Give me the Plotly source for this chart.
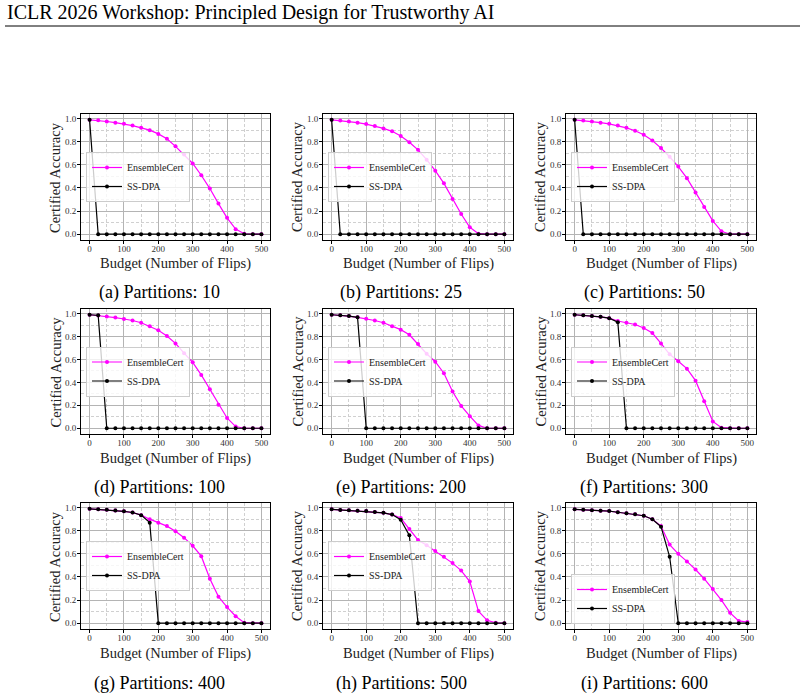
import plotly.graph_objects as go

# ---------------- data ----------------
budget = [0, 25, 50, 75, 100, 125, 150, 175, 200, 225, 250, 275, 300, 325, 350, 375, 400, 425, 450, 475, 500]
partitions = [10, 25, 50, 100, 200, 300, 400, 500, 600]
letters = ["a", "b", "c", "d", "e", "f", "g", "h", "i"]

ens_p10 = [0.99, 0.985, 0.975, 0.965, 0.955, 0.94, 0.92, 0.90, 0.868, 0.825, 0.76, 0.69, 0.612, 0.51, 0.395, 0.265, 0.142, 0.044, 0.004, 0.0, 0.0]
ss_p10 = [0.99, 0.0, 0.0, 0.0, 0.0, 0.0, 0.0, 0.0, 0.0, 0.0, 0.0, 0.0, 0.0, 0.0, 0.0, 0.0, 0.0, 0.0, 0.0, 0.0, 0.0]

ens_p25 = [0.99, 0.983, 0.975, 0.965, 0.953, 0.937, 0.915, 0.89, 0.85, 0.795, 0.73, 0.645, 0.55, 0.44, 0.305, 0.175, 0.06, 0.005, 0.0, 0.0, 0.0]
ss_p25 = [0.99, 0.0, 0.0, 0.0, 0.0, 0.0, 0.0, 0.0, 0.0, 0.0, 0.0, 0.0, 0.0, 0.0, 0.0, 0.0, 0.0, 0.0, 0.0, 0.0, 0.0]

ens_p50 = [0.99, 0.983, 0.975, 0.965, 0.955, 0.94, 0.92, 0.895, 0.86, 0.81, 0.745, 0.67, 0.585, 0.485, 0.36, 0.235, 0.115, 0.025, 0.0, 0.0, 0.0]
ss_p50 = [0.99, 0.0, 0.0, 0.0, 0.0, 0.0, 0.0, 0.0, 0.0, 0.0, 0.0, 0.0, 0.0, 0.0, 0.0, 0.0, 0.0, 0.0, 0.0, 0.0, 0.0]

ens_p100 = [0.99, 0.983, 0.975, 0.965, 0.953, 0.94, 0.92, 0.89, 0.855, 0.805, 0.74, 0.655, 0.575, 0.465, 0.34, 0.205, 0.09, 0.015, 0.0, 0.0, 0.0]
ss_p100 = [0.99, 0.985, 0.0, 0.0, 0.0, 0.0, 0.0, 0.0, 0.0, 0.0, 0.0, 0.0, 0.0, 0.0, 0.0, 0.0, 0.0, 0.0, 0.0, 0.0, 0.0]

ens_p200 = [0.99, 0.985, 0.978, 0.967, 0.955, 0.94, 0.92, 0.89, 0.86, 0.815, 0.735, 0.65, 0.58, 0.48, 0.32, 0.195, 0.105, 0.025, 0.0, 0.0, 0.0]
ss_p200 = [0.99, 0.985, 0.978, 0.967, 0.0, 0.0, 0.0, 0.0, 0.0, 0.0, 0.0, 0.0, 0.0, 0.0, 0.0, 0.0, 0.0, 0.0, 0.0, 0.0, 0.0]

ens_p300 = [0.99, 0.985, 0.98, 0.972, 0.96, 0.935, 0.92, 0.905, 0.875, 0.83, 0.74, 0.645, 0.585, 0.52, 0.415, 0.235, 0.06, 0.005, 0.0, 0.0, 0.0]
ss_p300 = [0.99, 0.985, 0.98, 0.972, 0.96, 0.925, 0.0, 0.0, 0.0, 0.0, 0.0, 0.0, 0.0, 0.0, 0.0, 0.0, 0.0, 0.0, 0.0, 0.0, 0.0]

ens_p400 = [0.99, 0.985, 0.982, 0.975, 0.968, 0.958, 0.935, 0.90, 0.87, 0.84, 0.795, 0.74, 0.67, 0.58, 0.385, 0.23, 0.14, 0.06, 0.005, 0.0, 0.0]
ss_p400 = [0.99, 0.985, 0.982, 0.975, 0.968, 0.958, 0.935, 0.87, 0.0, 0.0, 0.0, 0.0, 0.0, 0.0, 0.0, 0.0, 0.0, 0.0, 0.0, 0.0, 0.0]

ens_p500 = [0.985, 0.98, 0.977, 0.973, 0.97, 0.962, 0.955, 0.94, 0.91, 0.815, 0.72, 0.675, 0.625, 0.575, 0.52, 0.455, 0.36, 0.105, 0.025, 0.003, 0.0]
ss_p500 = [0.985, 0.98, 0.977, 0.973, 0.97, 0.962, 0.955, 0.94, 0.895, 0.76, 0.0, 0.0, 0.0, 0.0, 0.0, 0.0, 0.0, 0.0, 0.0, 0.0, 0.0]

ens_p600 = [0.985, 0.982, 0.978, 0.973, 0.97, 0.96, 0.952, 0.943, 0.93, 0.90, 0.84, 0.68, 0.60, 0.535, 0.465, 0.385, 0.295, 0.20, 0.09, 0.02, 0.01]
ss_p600 = [0.985, 0.982, 0.978, 0.973, 0.97, 0.96, 0.952, 0.943, 0.93, 0.90, 0.835, 0.575, 0.0, 0.0, 0.0, 0.0, 0.0, 0.0, 0.0, 0.0, 0.0]

ensemble_series = [ens_p10, ens_p25, ens_p50, ens_p100, ens_p200, ens_p300, ens_p400, ens_p500, ens_p600]
ssdpa_series = [ss_p10, ss_p25, ss_p50, ss_p100, ss_p200, ss_p300, ss_p400, ss_p500, ss_p600]

header_text = "ICLR 2026 Workshop: Principled Design for Trustworthy AI"
x_title = "Budget (Number of Flips)"
y_title = "Certified Accuracy"

# ---------------- layout constants ----------------
W, H = 804, 698
col_left = [81, 323, 566]
col_right = [270, 513, 756]
row_top = [114, 309, 503]
row_bot = [240, 434, 629]
ytitle_x = [55, 297, 540]
xtitle_y = [263, 458, 653]
caption_y = [292, 487, 683]
caption_x = [159, 401, 644]

SERIF = "Liberation Serif, Times New Roman, serif"
MAGENTA = "#ff00ff"


def px(x):
    return x / W


def py(y):
    return 1 - y / H


fig = go.Figure()
layout = dict(
    width=W, height=H,
    margin=dict(l=0, r=0, t=0, b=0),
    paper_bgcolor="white",
    plot_bgcolor="white",
    font=dict(family=SERIF, color="black"),
    showlegend=True,
)
annotations = []

for k in range(9):
    r, c = divmod(k, 3)
    idx = k + 1
    xa = "xaxis" if idx == 1 else f"xaxis{idx}"
    ya = "yaxis" if idx == 1 else f"yaxis{idx}"
    xref = "x" if idx == 1 else f"x{idx}"
    yref = "y" if idx == 1 else f"y{idx}"
    lg = "legend" if idx == 1 else f"legend{idx}"

    fig.add_trace(go.Scatter(
        x=budget, y=ensemble_series[k], mode="lines+markers", name="EnsembleCert",
        line=dict(color=MAGENTA, width=1.2), marker=dict(color=MAGENTA, size=4, symbol="circle"),
        xaxis=xref, yaxis=yref, legend=lg,
    ))
    fig.add_trace(go.Scatter(
        x=budget, y=ssdpa_series[k], mode="lines+markers", name="SS-DPA",
        line=dict(color="black", width=1.2), marker=dict(color="black", size=4, symbol="circle"),
        xaxis=xref, yaxis=yref, legend=lg,
    ))

    common = dict(
        showline=True, linecolor="black", linewidth=1, mirror=True,
        ticks="outside", ticklen=3, tickwidth=0.8, tickcolor="black",
        tickfont=dict(family=SERIF, size=9, color="#333"),
        showgrid=True, gridcolor="#b4b4b4", gridwidth=0.8,
        zeroline=False,
    )
    layout[xa] = dict(
        domain=[px(col_left[c]), px(col_right[c])],
        anchor=yref, range=[-25, 525], tickmode="linear", tick0=0, dtick=100,
        ticklabelstandoff=-3,
        minor=dict(dtick=50, showgrid=True, gridcolor="#d0d0d0", griddash="3px,2px", gridwidth=0.7),
        **common,
    )
    layout[ya] = dict(
        domain=[py(row_bot[r]), py(row_top[r])],
        anchor=xref, range=[-0.05, 1.04], tickmode="linear", tick0=0, dtick=0.2,
        tickformat=".1f", ticklabelstandoff=-1,
        minor=dict(dtick=0.1, showgrid=True, gridcolor="#d0d0d0", griddash="3px,2px", gridwidth=0.7),
        **common,
    )

    if k == 8:
        leg_y = py(row_bot[r] - 5)
        yanchor = "bottom"
    else:
        leg_y = py((row_top[r] + row_bot[r]) / 2)
        yanchor = "middle"
    layout[lg] = dict(
        x=px(col_left[c] + 5), y=leg_y, xanchor="left", yanchor=yanchor,
        xref="paper", yref="paper",
        bgcolor="rgba(255,255,255,0.8)", bordercolor="#cccccc", borderwidth=1,
        font=dict(family=SERIF, size=10, color="#222"),
        itemwidth=30, tracegroupgap=0,
    )

    annotations.append(dict(
        text=x_title, x=px((col_left[c] + col_right[c]) / 2), y=py(xtitle_y[r]),
        xref="paper", yref="paper", showarrow=False, xanchor="center", yanchor="middle",
        font=dict(family=SERIF, size=14.5, color="#222"),
    ))
    annotations.append(dict(
        text=y_title, x=px(ytitle_x[c]), y=py((row_top[r] + row_bot[r]) / 2),
        xref="paper", yref="paper", showarrow=False, xanchor="center", yanchor="middle",
        textangle=-90, font=dict(family=SERIF, size=14.5, color="#222"),
    ))
    annotations.append(dict(
        text=f"({letters[k]}) Partitions: {partitions[k]}", x=px(caption_x[c]), y=py(caption_y[r]),
        xref="paper", yref="paper", showarrow=False, xanchor="center", yanchor="middle",
        font=dict(family=SERIF, size=18, color="black"),
    ))

annotations.append(dict(
    text=header_text, x=px(5), y=py(13), xref="paper", yref="paper", showarrow=False,
    xanchor="left", yanchor="middle", font=dict(family=SERIF, size=20, color="black"),
))
layout["annotations"] = annotations
layout["shapes"] = [dict(type="line", xref="paper", yref="paper", x0=px(5), x1=px(800),
                         y0=py(26), y1=py(26), line=dict(color="black", width=1))]

fig.update_layout(**layout)
fig.write_html("out.html")
